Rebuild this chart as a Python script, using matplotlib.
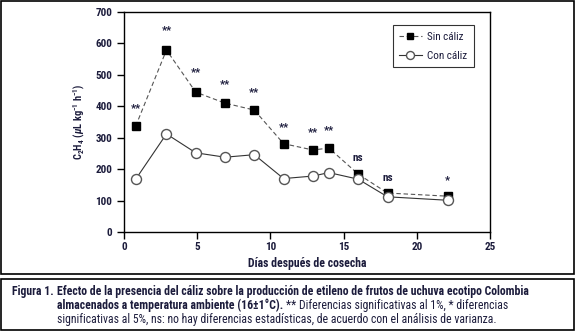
import matplotlib.pyplot as plt
import matplotlib.patches as patches
from matplotlib import font_manager

# look for a narrow font, like the original
names = {f.name for f in font_manager.fontManager.ttflist}
cond = [f for f in font_manager.fontManager.ttflist
        if f.name == 'DejaVu Sans' and 'ondensed' in str(f.stretch) + f.fname]
stretch = 'normal'
fam = 'Liberation Sans'
for n in ['Liberation Sans Narrow', 'Roboto Condensed', 'Open Sans Condensed']:
    if n in names:
        fam = n
        break
else:
    if cond:
        fam, stretch = 'DejaVu Sans', 'condensed'
plt.rcParams['font.family'] = [fam, 'DejaVu Sans']
plt.rcParams['font.stretch'] = stretch
plt.rcParams['mathtext.fontset'] = 'custom'
plt.rcParams['mathtext.rm'] = fam + ':bold'
plt.rcParams['mathtext.bf'] = fam + ':bold'
plt.rcParams['mathtext.it'] = fam + ':italic:bold'
txt = '#1c1c3c'

dias = [0.8, 2.9, 4.9, 6.9, 8.9, 10.9, 12.9, 14.0, 16.0, 18.0, 22.1]
sin_caliz = [337, 579, 445, 410, 388, 281, 261, 267, 184, 124, 114]
con_caliz = [168, 312, 252, 238, 246, 170, 178, 189, 168, 112, 101]
signif = ['**', '**', '**', '**', '**', '**', '**', '**', 'ns', 'ns', '*']
signif_y = [395, 641, 507, 469, 446, 334, 316, 323, 236, 172, 165]

fig = plt.figure(figsize=(5.76, 3.32), dpi=100)
ax = fig.add_axes([124/576, 1-232/332, 366/576, 220/332])

ax.plot(dias, sin_caliz, color='#555555', linestyle=(0, (4, 2.5)), linewidth=0.8,
        marker='s', markersize=6, markerfacecolor='black', markeredgecolor='black',
        label='Sin cáliz')
ax.plot(dias, con_caliz, color='#333333', linestyle='-', linewidth=0.8,
        marker='o', markersize=7.2, markerfacecolor='white', markeredgecolor='#555555',
        label='Con cáliz')

for x, y, s in zip(dias, signif_y, signif):
    ax.text(x, y, s, ha='center', va='center', fontsize=8, fontweight='bold', color=txt)

ax.set_xlim(0, 25)
ax.set_ylim(0, 700)
ax.set_xticks([0, 5, 10, 15, 20, 25])
ax.set_yticks(range(0, 701, 100))
ax.tick_params(labelsize=8, colors='black', labelcolor=txt, length=5, width=1)
ax.tick_params(axis='y', pad=3.5)
ax.tick_params(axis='x', pad=2)
for lab in ax.get_xticklabels() + ax.get_yticklabels():
    lab.set_fontweight('bold')
for sp in ax.spines.values():
    sp.set_linewidth(1)
ax.set_xlabel('Días después de cosecha', fontsize=8.5, fontweight='bold', color=txt, labelpad=4)
ax.set_ylabel('C$_\\mathbf{2}$H$_\\mathbf{4}$ ($\\mu$L kg$^\\mathbf{-1}$ h$^\\mathbf{-1}$)',
              fontsize=7.5, fontweight='bold', color=txt, labelpad=6)

leg = ax.legend(loc='upper right', bbox_to_anchor=(0.956, 0.941), borderaxespad=0,
                fontsize=8, frameon=True, fancybox=False, edgecolor='black',
                handlelength=2.0, borderpad=0.6, labelspacing=0.8, handletextpad=0.5,
                markerscale=0.8)
leg.get_frame().set_linewidth(0.8)
for t in leg.get_texts():
    t.set_color(txt)

# outer frames
fig.patches.append(patches.Rectangle((1/576, 1-274/332), 573/576, 273/332, transform=fig.transFigure,
                                     fill=False, edgecolor='black', linewidth=1.2))
fig.patches.append(patches.Rectangle((1/576, 1-330/332), 573/576, 51/332, transform=fig.transFigure,
                                     fill=False, edgecolor='black', linewidth=1.2))

# caption; pick the font size so the first line spans like in the reference
line1 = 'Efecto de la presencia del cáliz sobre la producción de etileno de frutos de uchuva ecotipo Colombia'
line2a = 'almacenados a temperatura ambiente (16±1°C).'
line2b = '** Diferencias significativas al 1%, * diferencias'
line3 = 'significativas al 5%, ns: no hay diferencias estadísticas, de acuerdo con el análisis de varianza.'

fig.canvas.draw()
renderer = fig.canvas.get_renderer()
fs = 10.0
while fs > 5:
    probe = fig.text(0, 0, line1, fontsize=fs, fontweight='bold')
    w = probe.get_window_extent(renderer).width
    probe.remove()
    if w <= 472:
        break
    fs -= 0.1

fig.text(12/576, 1-292/332, 'Figura 1.', fontsize=fs, fontweight='bold', color=txt, va='center')
fig.text(57/576, 1-292/332, line1, fontsize=fs, fontweight='bold', color=txt, va='center')
t1 = fig.text(57/576, 1-305/332, line2a, fontsize=fs, fontweight='bold', color=txt, va='center')
bb = t1.get_window_extent(renderer)
fig.text(bb.x1/fig.bbox.width + 3/576, 1-305/332, line2b, fontsize=fs, color=txt, va='center')
fig.text(57/576, 1-319/332, line3, fontsize=fs, color=txt, va='center')

fig.savefig('out.png', dpi=100)
